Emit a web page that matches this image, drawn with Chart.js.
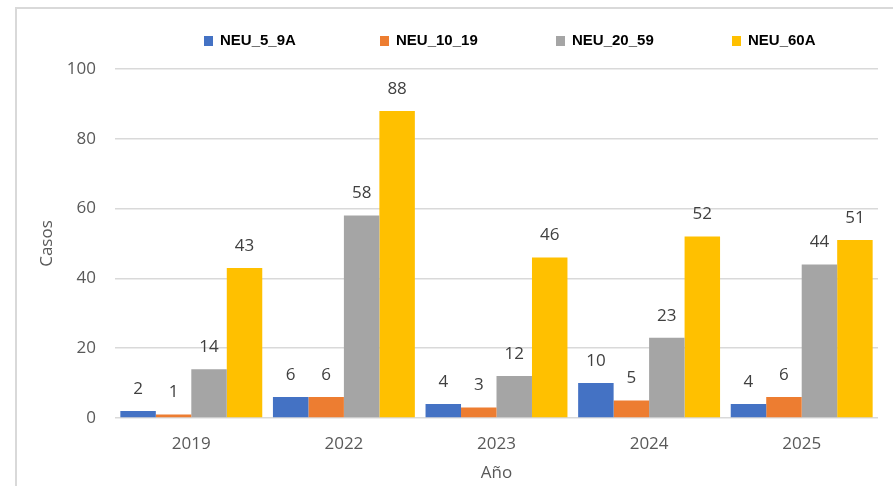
<!DOCTYPE html>
<html lang="es">
<head>
<meta charset="utf-8">
<title>Casos por año</title>
<script src="https://cdn.jsdelivr.net/npm/chart.js@4.4.1/dist/chart.umd.min.js"></script>
<style>
  html, body { margin: 0; padding: 0; background: #fff; }
  .wrap { position: relative; width: 893px; height: 486px; overflow: hidden; }
  .frame { position: absolute; left: 15px; top: 7px; right: -20px; bottom: -20px; border: 2px solid #d9d9d9; }
  #chart { position: absolute; left: 0; top: 0; }
</style>
</head>
<body>
<div class="wrap">
  <div class="frame"></div>
  <canvas id="chart" width="893" height="486"></canvas>
</div>
<script>
// ----- data -----
const years = ['2019', '2022', '2023', '2024', '2025'];
const seriesNames = ['NEU_5_9A', 'NEU_10_19', 'NEU_20_59', 'NEU_60A'];
const neu5_9a  = [2, 6, 4, 10, 4];
const neu10_19 = [1, 6, 3, 5, 6];
const neu20_59 = [14, 58, 12, 23, 44];
const neu60a   = [43, 88, 46, 52, 51];
const yTicks = [0, 20, 40, 60, 80, 100];

const colors = ['#4472c4', '#ed7d31', '#a5a5a5', '#ffc000'];
const values = [neu5_9a, neu10_19, neu20_59, neu60a];

const tickColor = '#595959';
const baseFont = '"Open Sans", "Liberation Sans", sans-serif';

// value labels above each bar
const barLabels = {
  id: 'barLabels',
  afterDatasetsDraw(chart) {
    const ctx = chart.ctx;
    ctx.save();
    ctx.font = '17px ' + baseFont;
    ctx.fillStyle = '#404040';
    ctx.textAlign = 'center';
    ctx.textBaseline = 'middle';
    chart.data.datasets.forEach((ds, i) => {
      chart.getDatasetMeta(i).data.forEach((bar, j) => {
        ctx.fillText(String(ds.data[j]), bar.x, bar.y - 22);
      });
    });
    ctx.restore();
  }
};

// legend row, evenly spaced like the original
const legendRow = {
  id: 'legendRow',
  afterDraw(chart) {
    const ctx = chart.ctx;
    const area = chart.chartArea;
    const step = 176;
    const x0 = area.left + 89;
    const y = 41;
    ctx.save();
    ctx.font = 'bold 15px "Liberation Sans", sans-serif';
    ctx.textBaseline = 'middle';
    ctx.textAlign = 'left';
    chart.data.datasets.forEach((ds, i) => {
      const x = x0 + i * step;
      ctx.fillStyle = ds.backgroundColor;
      ctx.fillRect(x, y - 5, 9, 10);
      ctx.fillStyle = '#000';
      ctx.fillText(ds.label, x + 16, y);
    });
    ctx.restore();
  }
};

const ctx = document.getElementById('chart').getContext('2d');
new Chart(ctx, {
  type: 'bar',
  data: {
    labels: years,
    datasets: seriesNames.map((name, i) => ({
      label: name,
      data: values[i],
      backgroundColor: colors[i],
      borderWidth: 0,
      barPercentage: 1.0,
      categoryPercentage: 0.93
    }))
  },
  options: {
    responsive: false,
    animation: false,
    layout: { padding: { left: 0, right: 15, top: 69, bottom: 0 } },
    scales: {
      x: {
        grid: { display: false, drawTicks: false },
        border: { display: false },
        ticks: { color: tickColor, font: { size: 17, family: baseFont }, padding: 16 },
        title: { display: true, text: 'Año', color: tickColor, font: { size: 17, family: baseFont }, padding: { top: 0, bottom: 3 } },
        afterFit: (s) => { s.height = 68; }
      },
      y: {
        min: 0,
        max: 100,
        afterBuildTicks: (s) => { s.ticks = yTicks.map(v => ({ value: v })); },
        grid: { color: '#d9d9d9', lineWidth: 1.5, drawTicks: false },
        border: { display: false },
        ticks: { color: tickColor, font: { size: 17, family: baseFont }, padding: 19 },
        title: { display: true, text: 'Casos', color: tickColor, font: { size: 17, family: baseFont }, padding: { top: 37, bottom: 0 } },
        afterFit: (s) => { s.width = 115; }
      }
    },
    plugins: {
      legend: { display: false },
      tooltip: { enabled: false }
    }
  },
  plugins: [barLabels, legendRow]
});
</script>
</body>
</html>
